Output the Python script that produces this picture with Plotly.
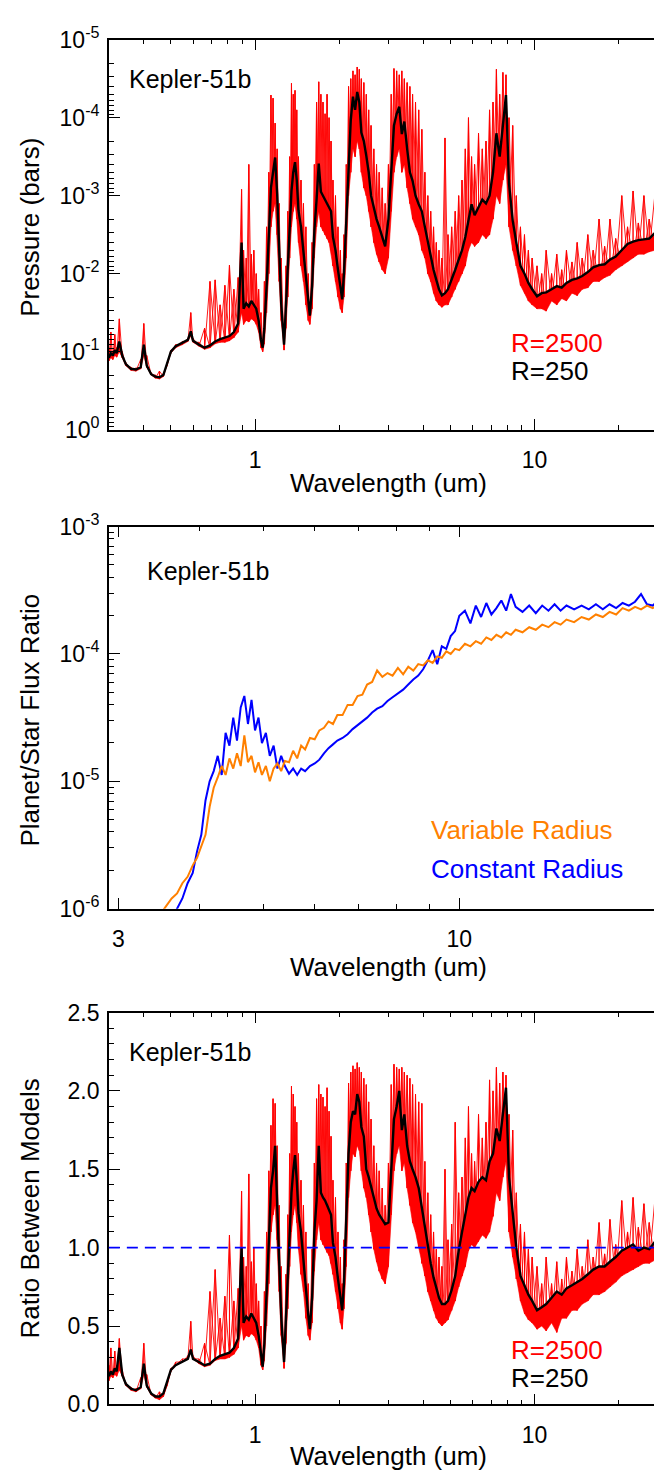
import plotly.graph_objects as go

# ---------------- DATA ----------------
# wavelength grid (um) shared by top and bottom panels
wavelength_um = [
    0.300, 0.305, 0.310, 0.315, 0.320, 0.327, 0.335, 0.345, 0.360, 0.375, 0.390, 0.400, 0.410, 0.425, 0.440, 0.455, 0.470,
    0.485, 0.500, 0.520, 0.550, 0.575, 0.589, 0.600, 0.630, 0.660, 0.690, 0.720, 0.750, 0.780, 0.810, 0.840, 0.870,
    0.895, 0.910, 0.930, 0.950, 0.970, 0.990, 1.010, 1.030, 1.050, 1.065,
    1.08, 1.10, 1.12, 1.14, 1.16, 1.18, 1.20, 1.22, 1.24, 1.27,
    1.29, 1.31, 1.33, 1.35, 1.37, 1.39, 1.41, 1.43, 1.46, 1.49, 1.52, 1.55, 1.57,
    1.60, 1.63, 1.66, 1.69, 1.72, 1.75, 1.78, 1.81, 1.84, 1.87, 1.90, 1.94, 1.98, 2.02, 2.05,
    2.08, 2.12, 2.16, 2.20, 2.24, 2.28, 2.32, 2.36, 2.40, 2.45, 2.50, 2.55, 2.60, 2.66, 2.72, 2.78, 2.85, 2.92,
    3.00, 3.07, 3.14, 3.21, 3.28, 3.35, 3.42, 3.50, 3.58, 3.66, 3.75, 3.85, 3.95, 4.05, 4.15, 4.25, 4.35, 4.45, 4.55, 4.66,
    4.78, 4.90, 5.05, 5.20, 5.35, 5.50, 5.65, 5.80, 5.95, 6.10, 6.30, 6.50, 6.70, 6.90, 7.10, 7.30, 7.50, 7.70, 7.90, 8.10,
    8.35, 8.60, 8.90, 9.20, 9.50, 9.80, 10.2,
    10.6, 11.0, 11.5, 12.0, 12.5, 13.0, 13.6, 14.2, 14.8, 15.5, 16.2, 17.0, 17.8, 18.6, 19.5, 20.5, 21.5, 22.5, 23.5, 24.6,
    25.7, 26.9, 28.1, 29.3, 30.0,
]

# top panel: log10 of photosphere pressure (bars)
log10_p_R250 = [
    -0.92, -0.98, -0.95, -1.02, -0.98, -1.13, -0.95, -0.84, -0.78, -0.77, -0.80, -1.09, -0.82, -0.71, -0.68, -0.67, -0.70,
    -0.84, -1.00, -1.07, -1.11, -1.15, -1.26, -1.14, -1.09, -1.05, -1.08, -1.13, -1.16, -1.18, -1.20, -1.25, -1.36,
    -2.40, -1.55, -1.62, -1.58, -1.65, -1.60, -1.55, -1.40, -1.15, -1.05,
    -1.30, -1.84, -2.47, -3.10, -3.30, -3.49, -3.02, -2.26, -1.63, -1.09,
    -1.60, -2.05, -2.68, -3.06, -3.30, -3.43, -3.20, -2.81, -2.60, -2.26, -1.92, -1.63, -1.46,
    -1.84, -2.55, -2.95, -3.41, -3.05, -3.00, -2.95, -2.90, -2.85, -2.80, -2.47, -2.30, -2.05, -1.80, -1.67,
    -2.00, -2.68, -3.50, -3.97, -4.27, -4.10, -4.33, -4.20, -3.81, -3.70, -3.51, -3.30, -3.00, -2.85, -2.70, -2.60, -2.47, -2.35,
    -2.70, -3.30, -3.90, -4.05, -4.14, -3.79, -3.95, -3.60, -3.30, -3.19, -3.00, -2.89, -2.80, -2.60, -2.40, -2.20, -2.05, -1.92, -1.80, -1.72,
    -1.75, -1.80, -1.92, -2.05, -2.18, -2.30, -2.47, -2.70, -2.89, -2.75, -2.85, -2.95, -2.90, -3.00, -3.30, -3.80, -3.50, -3.90, -4.29, -3.15,
    -2.68, -2.40, -2.10, -2.00, -1.88, -1.80, -1.71,
    -1.75, -1.76, -1.80, -1.84, -1.82, -1.88, -1.92, -1.94, -1.97, -2.02, -2.08, -2.11, -2.12, -2.18, -2.22, -2.30, -2.38, -2.41, -2.43, -2.44,
    -2.45, -2.52, -2.62, -2.66, -2.60,
]
log10_p_R2500_high = [
    -1.05, -1.25, -1.00, -1.22, -1.05, -1.42, -1.00, -0.86, -0.80, -0.79, -0.90, -1.36, -0.95, -0.73, -0.70, -0.75, -0.72,
    -0.86, -1.02, -1.09, -1.13, -1.17, -1.50, -1.17, -1.12, -1.30, -1.90, -1.92, -1.60, -1.85, -2.11, -1.80, -1.95,
    -3.08, -2.30, -2.20, -3.40, -2.25, -2.30, -2.00, -1.80, -1.50, -1.15,
    -1.90, -2.60, -3.30, -4.29, -4.25, -3.93, -3.60, -2.90, -2.20, -1.20,
    -2.10, -2.80, -3.50, -4.44, -4.30, -4.35, -4.10, -3.50, -3.20, -2.90, -2.60, -2.00, -1.60,
    -2.40, -3.40, -4.20, -4.46, -4.30, -4.20, -4.05, -4.30, -4.00, -3.70, -3.20, -3.00, -2.60, -2.30, -2.00,
    -2.50, -3.40, -4.40, -4.50, -4.60, -4.55, -4.65, -4.62, -4.50, -4.45, -4.30, -4.10, -3.90, -3.60, -3.40, -3.30, -3.10, -2.90,
    -3.40, -4.30, -4.63, -4.60, -4.55, -4.60, -4.50, -4.45, -4.40, -4.30, -4.20, -4.10, -3.85, -3.30, -3.00, -2.80, -2.60, -2.40, -2.30, -2.20,
    -3.74, -2.50, -2.60, -2.80, -3.00, -3.20, -3.60, -4.00, -3.50, -3.40, -3.80, -3.60, -3.70, -4.10, -4.20, -4.62, -4.30, -4.58, -4.55, -4.00,
    -3.90, -3.00, -2.60, -2.50, -2.30, -2.20, -2.10,
    -2.00, -2.30, -2.00, -2.25, -2.05, -2.30, -2.15, -2.40, -2.20, -2.50, -2.30, -2.70, -2.35, -2.70, -2.45, -3.00, -2.60, -3.06, -2.65, -3.00,
    -2.70, -3.00, -3.13, -2.85, -2.80,
]
log10_p_R2500_low = [
    -0.88, -0.92, -0.90, -0.95, -0.93, -1.00, -0.92, -0.82, -0.76, -0.75, -0.78, -0.95, -0.80, -0.70, -0.66, -0.65, -0.68,
    -0.82, -0.98, -1.05, -1.09, -1.13, -1.20, -1.12, -1.07, -1.03, -1.05, -1.10, -1.12, -1.12, -1.14, -1.18, -1.25,
    -1.50, -1.35, -1.40, -1.38, -1.42, -1.40, -1.35, -1.25, -1.05, -1.00,
    -1.10, -1.50, -2.00, -2.60, -2.80, -2.90, -2.50, -1.90, -1.40, -1.02,
    -1.30, -1.70, -2.20, -2.60, -2.80, -2.90, -2.70, -2.40, -2.10, -1.90, -1.60, -1.40, -1.35,
    -1.55, -2.20, -2.60, -2.80, -2.60, -2.55, -2.50, -2.45, -2.40, -2.30, -2.10, -1.90, -1.70, -1.55, -1.50,
    -1.70, -2.20, -3.00, -3.30, -3.60, -3.50, -3.70, -3.60, -3.30, -3.10, -3.00, -2.80, -2.60, -2.40, -2.25, -2.15, -2.05, -2.00,
    -2.20, -2.80, -3.30, -3.50, -3.60, -3.30, -3.40, -3.10, -2.90, -2.70, -2.60, -2.50, -2.30, -2.20, -2.00, -1.90, -1.75, -1.65, -1.60, -1.57,
    -1.60, -1.60, -1.70, -1.80, -1.90, -2.00, -2.10, -2.30, -2.40, -2.35, -2.40, -2.50, -2.45, -2.50, -2.70, -3.00, -2.90, -3.20, -3.40, -2.60,
    -2.30, -2.10, -1.85, -1.75, -1.65, -1.60, -1.55,
    -1.55, -1.52, -1.65, -1.60, -1.68, -1.65, -1.75, -1.72, -1.80, -1.82, -1.90, -1.90, -1.95, -1.98, -2.05, -2.10, -2.15, -2.20, -2.25, -2.25,
    -2.28, -2.30, -2.40, -2.40, -2.45,
]

# bottom panel: ratio between models
ratio_R250 = [
    0.18, 0.21, 0.19, 0.23, 0.21, 0.36, 0.19, 0.13, 0.10, 0.09, 0.11, 0.26, 0.12, 0.07, 0.05, 0.05, 0.07,
    0.14, 0.22, 0.25, 0.27, 0.29, 0.35, 0.29, 0.27, 0.25, 0.26, 0.29, 0.31, 0.32, 0.33, 0.36, 0.42,
    1.00, 0.52, 0.56, 0.54, 0.58, 0.55, 0.52, 0.44, 0.30, 0.24,
    0.39, 0.68, 1.03, 1.38, 1.49, 1.65, 1.33, 0.91, 0.57, 0.27,
    0.55, 0.80, 1.14, 1.35, 1.49, 1.59, 1.43, 1.22, 1.10, 0.91, 0.73, 0.57, 0.48,
    0.68, 1.10, 1.30, 1.65, 1.35, 1.32, 1.30, 1.27, 1.24, 1.21, 1.03, 0.94, 0.80, 0.66, 0.60,
    0.77, 1.14, 1.60, 1.80, 1.87, 1.85, 1.98, 1.93, 1.77, 1.71, 1.50, 1.45, 1.38, 1.32, 1.25, 1.21, 1.18, 1.15,
    1.16, 1.49, 1.82, 1.90, 2.00, 1.75, 1.85, 1.65, 1.55, 1.50, 1.45, 1.38, 1.25, 1.12, 1.00, 0.90, 0.81, 0.74, 0.68, 0.64,
    0.64, 0.66, 0.73, 0.82, 0.98, 1.10, 1.20, 1.32, 1.38, 1.36, 1.42, 1.45, 1.43, 1.55, 1.60, 1.76, 1.68, 1.85, 2.02, 1.45,
    1.20, 1.00, 0.82, 0.76, 0.70, 0.66, 0.60,
    0.62, 0.64, 0.68, 0.72, 0.70, 0.74, 0.76, 0.78, 0.80, 0.83, 0.86, 0.88, 0.88, 0.91, 0.94, 0.98, 1.00, 1.02, 0.98, 1.00,
    0.99, 1.04, 1.08, 1.06, 1.02,
]
ratio_R2500_high = [
    0.25, 0.36, 0.22, 0.34, 0.25, 0.42, 0.22, 0.14, 0.11, 0.10, 0.17, 0.39, 0.19, 0.07, 0.06, 0.08, 0.07,
    0.14, 0.23, 0.27, 0.29, 0.31, 0.53, 0.31, 0.29, 0.39, 0.72, 0.86, 0.55, 0.69, 1.08, 0.66, 0.74,
    1.36, 0.94, 0.88, 1.47, 0.91, 1.00, 0.77, 0.66, 0.50, 0.30,
    0.72, 1.10, 1.49, 1.78, 1.95, 1.92, 1.65, 1.27, 0.88, 0.33,
    0.83, 1.21, 1.60, 2.03, 1.98, 1.90, 1.80, 1.60, 1.43, 1.27, 1.10, 0.77, 0.55,
    0.99, 1.54, 1.95, 2.04, 1.98, 1.96, 1.90, 2.02, 1.87, 1.71, 1.43, 1.32, 1.10, 0.94, 0.77,
    1.05, 1.54, 2.05, 2.12, 2.16, 2.14, 2.18, 2.15, 2.12, 2.08, 2.04, 1.93, 1.82, 1.65, 1.54, 1.49, 1.38, 1.27,
    1.54, 2.04, 2.17, 2.15, 2.14, 2.15, 2.12, 2.10, 2.08, 2.04, 1.98, 1.93, 1.92, 1.55, 1.35, 1.21, 1.10, 0.99, 0.94, 0.88,
    1.50, 1.05, 1.15, 1.80, 1.35, 1.45, 1.70, 1.90, 1.60, 1.55, 1.85, 1.70, 1.80, 2.07, 2.00, 2.15, 2.05, 2.12, 2.10, 1.85,
    1.75, 1.35, 1.15, 1.10, 0.99, 0.94, 0.88,
    0.77, 0.94, 0.77, 0.91, 0.80, 0.94, 0.85, 0.99, 0.88, 1.05, 0.94, 1.16, 0.96, 1.18, 1.02, 1.30, 1.10, 1.32, 1.13, 1.28,
    1.16, 1.30, 1.47, 1.24, 1.21,
]
ratio_R2500_low = [
    0.15, 0.18, 0.17, 0.19, 0.18, 0.22, 0.18, 0.12, 0.09, 0.08, 0.10, 0.19, 0.11, 0.06, 0.04, 0.03, 0.05,
    0.12, 0.21, 0.25, 0.27, 0.29, 0.33, 0.29, 0.26, 0.24, 0.25, 0.28, 0.29, 0.29, 0.30, 0.32, 0.36,
    0.50, 0.41, 0.44, 0.43, 0.45, 0.44, 0.41, 0.36, 0.25, 0.22,
    0.28, 0.50, 0.77, 1.10, 1.21, 1.27, 1.05, 0.72, 0.44, 0.23,
    0.39, 0.61, 0.88, 1.10, 1.21, 1.27, 1.16, 0.99, 0.83, 0.72, 0.55, 0.44, 0.41,
    0.52, 0.85, 1.05, 1.16, 1.05, 1.02, 1.00, 0.97, 0.95, 0.90, 0.83, 0.72, 0.61, 0.52, 0.48,
    0.61, 0.88, 1.32, 1.49, 1.60, 1.58, 1.65, 1.62, 1.49, 1.38, 1.32, 1.21, 1.10, 0.99, 0.91, 0.85, 0.80, 0.77,
    0.88, 1.21, 1.49, 1.60, 1.65, 1.49, 1.54, 1.38, 1.27, 1.16, 1.10, 1.00, 0.90, 0.82, 0.72, 0.66, 0.60, 0.55, 0.52, 0.50,
    0.52, 0.54, 0.60, 0.66, 0.75, 0.82, 0.88, 0.98, 1.02, 1.00, 1.04, 1.08, 1.06, 1.10, 1.20, 1.35, 1.30, 1.45, 1.55, 1.10,
    0.94, 0.80, 0.66, 0.58, 0.54, 0.52, 0.48,
    0.50, 0.47, 0.52, 0.46, 0.55, 0.55, 0.60, 0.60, 0.64, 0.66, 0.70, 0.70, 0.72, 0.75, 0.78, 0.82, 0.84, 0.86, 0.88, 0.90,
    0.90, 0.92, 0.96, 0.97, 1.00,
]

# middle panel: planet/star flux ratio (log10)
wavelength_mid_um = [
    3.40, 3.47, 3.55, 3.62, 3.69, 3.76, 3.83, 3.90, 3.96, 4.02,
    4.08, 4.14, 4.20, 4.26, 4.32, 4.38, 4.44, 4.50, 4.56, 4.62,
    4.68, 4.74, 4.80, 4.86, 4.92, 4.98, 5.05, 5.12, 5.19, 5.26,
    5.33, 5.40, 5.48, 5.56, 5.64, 5.72, 5.80, 5.90, 6.00, 6.10,
    6.20, 6.30, 6.40, 6.50, 6.62, 6.74, 6.86, 6.98, 7.10, 7.22,
    7.35, 7.48, 7.62, 7.76, 7.90, 8.05, 8.20, 8.35, 8.50, 8.65,
    8.80, 8.95, 9.10, 9.25, 9.40, 9.55, 9.70, 9.85, 10.0, 10.2,
    10.4, 10.6, 10.8, 11.0, 11.2, 11.4, 11.6, 11.8, 12.0, 12.2,
    12.5, 12.8, 13.1, 13.4, 13.7, 14.0, 14.3, 14.6, 15.0, 15.4,
    15.8, 16.2, 16.6, 17.0, 17.4, 17.8, 18.2, 18.6, 19.0, 19.4,
    19.8, 20.2, 20.6, 21.0,
]
log10_flux_constant_radius = [
    -6.30, -6.25, -6.15, -6.10, -6.00, -5.92, -5.80, -5.72, -5.55, -5.42,
    -5.15, -5.00, -4.92, -4.80, -4.95, -4.62, -4.72, -4.50, -4.68, -4.42,
    -4.33, -4.55, -4.36, -4.60, -4.50, -4.70, -4.62, -4.80, -4.72, -4.90,
    -4.80, -4.88, -4.94, -4.90, -4.95, -4.90, -4.92, -4.88, -4.86, -4.83,
    -4.78, -4.74, -4.71, -4.68, -4.66, -4.63, -4.59, -4.56, -4.53, -4.50,
    -4.46, -4.43, -4.41, -4.37, -4.34, -4.31, -4.28, -4.24, -4.20, -4.17,
    -4.12, -4.05, -3.97, -4.08, -3.94, -3.96, -3.86, -3.82, -3.70, -3.66,
    -3.76, -3.62, -3.71, -3.60, -3.69, -3.64, -3.58, -3.66, -3.53, -3.63,
    -3.67, -3.62, -3.68, -3.62, -3.66, -3.61, -3.66, -3.62, -3.65, -3.62,
    -3.65, -3.61, -3.65, -3.61, -3.64, -3.60, -3.62, -3.59, -3.53, -3.61,
    -3.62, -3.58, -3.60, -3.58,
]
log10_flux_variable_radius = [
    -6.10, -6.05, -5.98, -5.92, -5.88, -5.80, -5.75, -5.66, -5.60, -5.50,
    -5.42, -5.20, -5.05, -4.97, -4.88, -4.95, -4.82, -4.90, -4.78, -4.88,
    -4.64, -4.85, -4.80, -4.93, -4.85, -4.95, -4.88, -5.00, -4.90, -4.86,
    -4.92, -4.84, -4.85, -4.76, -4.82, -4.72, -4.75, -4.66, -4.67, -4.60,
    -4.58, -4.53, -4.55, -4.48, -4.48, -4.40, -4.40, -4.33, -4.32, -4.24,
    -4.22, -4.13, -4.18, -4.15, -4.17, -4.11, -4.16, -4.10, -4.13, -4.08,
    -4.09, -4.05, -4.07, -4.02, -4.03, -3.98, -4.00, -3.96, -3.97, -3.92,
    -3.94, -3.90, -3.92, -3.87, -3.89, -3.85, -3.87, -3.83, -3.85, -3.81,
    -3.83, -3.79, -3.81, -3.77, -3.79, -3.75, -3.77, -3.73, -3.75, -3.71,
    -3.73, -3.69, -3.71, -3.67, -3.69, -3.64, -3.66, -3.63, -3.65, -3.62,
    -3.64, -3.61, -3.62, -3.60,
]

# tick labels
top_y_ticks = [1e-5, 1e-4, 1e-3, 1e-2, 1e-1, 1e0]
top_y_labels = ["10<sup>-5</sup>", "10<sup>-4</sup>", "10<sup>-3</sup>", "10<sup>-2</sup>", "10<sup>-1</sup>", "10<sup>0</sup>"]
mid_y_ticks = [1e-6, 1e-5, 1e-4, 1e-3]
mid_y_labels = ["10<sup>-6</sup>", "10<sup>-5</sup>", "10<sup>-4</sup>", "10<sup>-3</sup>"]
bot_y_ticks = [0.0, 0.5, 1.0, 1.5, 2.0, 2.5]
bot_y_labels = ["0.0", "0.5", "1.0", "1.5", "2.0", "2.5"]
wide_x_ticks = [1, 10]
wide_x_labels = ["1", "10"]
mid_x_ticks = [3, 10]
mid_x_labels = ["3", "10"]

# ---------------- FIGURE ----------------
W, H = 662, 1476
FONT = "Liberation Sans, Arial, Helvetica, sans-serif"
RED, BLUE, ORANGE = "#ff0000", "#0000ff", "#ff8000"


def py(px):
    return 1 - px / H


def zigzag(x, first, second):
    xs, ys = [], []
    for xi, a, b in zip(x, first, second):
        xs += [xi, xi]
        ys += [a, b]
    return xs, ys


def band(x, lo, hi):
    return list(x) + list(reversed(x)), list(hi) + list(reversed(lo))


def pow10(vals):
    return [10 ** v for v in vals]


def add_r2500(x, lo, hi, mid, xa, ya, conv):
    # dense core below the smoothed spectrum
    bx, by = band(x, lo, mid)
    fig.add_trace(go.Scatter(x=bx, y=conv(by), mode="lines", fill="toself", fillcolor=RED,
                             line=dict(color=RED, width=0.6), xaxis=xa, yaxis=ya, hoverinfo="skip"))
    # crossing spikes between low and high envelopes
    for first, second in ((lo, hi), (hi, lo)):
        zx, zy = zigzag(x, first, second)
        fig.add_trace(go.Scatter(x=zx, y=conv(zy), mode="lines", line=dict(color=RED, width=0.9),
                                 xaxis=xa, yaxis=ya, hoverinfo="skip"))


fig = go.Figure()

# top panel
add_r2500(wavelength_um, log10_p_R2500_low, log10_p_R2500_high, log10_p_R250, "x", "y", pow10)
fig.add_trace(go.Scatter(x=wavelength_um, y=pow10(log10_p_R250), mode="lines", line=dict(color="black", width=2.4),
                         xaxis="x", yaxis="y", hoverinfo="skip"))

# middle panel
fig.add_trace(go.Scatter(x=wavelength_mid_um, y=pow10(log10_flux_constant_radius), mode="lines",
                         line=dict(color=BLUE, width=2), xaxis="x2", yaxis="y2", hoverinfo="skip"))
fig.add_trace(go.Scatter(x=wavelength_mid_um, y=pow10(log10_flux_variable_radius), mode="lines",
                         line=dict(color=ORANGE, width=2), xaxis="x2", yaxis="y2", hoverinfo="skip"))

# bottom panel
add_r2500(wavelength_um, ratio_R2500_low, ratio_R2500_high, ratio_R250, "x3", "y3", list)
fig.add_trace(go.Scatter(x=wavelength_um, y=ratio_R250, mode="lines", line=dict(color="black", width=2.4),
                         xaxis="x3", yaxis="y3", hoverinfo="skip"))

XD = [101 / W, 661 / W]


def axis_common():
    return dict(showline=True, linecolor="black", linewidth=1.5, mirror="ticks", ticks="inside",
                ticklen=11, tickwidth=1.3, tickcolor="black", showgrid=False, zeroline=False,
                tickfont=dict(family=FONT, size=23, color="black"))


top_x_minor = [0.4, 0.5, 0.6, 0.7, 0.8, 0.9, 2, 3, 4, 5, 6, 7, 8, 9, 20, 30]
mid_x_minor = [4, 5, 6, 7, 8, 9, 20]
top_y_minor = [k * 10.0 ** e for e in range(-5, 0) for k in range(2, 10)]
mid_y_minor = [k * 10.0 ** e for e in range(-6, -3) for k in range(2, 10)]
minor_style = dict(ticks="inside", ticklen=5, tickwidth=1.2, tickcolor="black", tickmode="array")

xa1 = axis_common()
xa1.update(type="log", domain=XD, anchor="y", range=[-0.5229, 1.4771], tickmode="array",
           tickvals=wide_x_ticks, ticktext=wide_x_labels, ticklabelstandoff=9,
           minor=dict(minor_style, tickvals=top_x_minor))
ya1 = axis_common()
ya1.update(type="log", domain=[py(413), py(15)], anchor="x", range=[0, -5], tickmode="array",
           tickvals=top_y_ticks, ticktext=top_y_labels, ticklabelstandoff=3,
           minor=dict(minor_style, tickvals=top_y_minor))

xa2 = axis_common()
xa2.update(type="log", domain=XD, anchor="y2", range=[0.4624, 1.3201], tickmode="array",
           tickvals=mid_x_ticks, ticktext=mid_x_labels, ticklabelstandoff=9,
           minor=dict(minor_style, tickvals=mid_x_minor))
ya2 = axis_common()
ya2.update(type="log", domain=[py(902), py(512)], anchor="x2", range=[-6, -3], tickmode="array",
           tickvals=mid_y_ticks, ticktext=mid_y_labels, ticklabelstandoff=3,
           minor=dict(minor_style, tickvals=mid_y_minor))

xa3 = axis_common()
xa3.update(type="log", domain=XD, anchor="y3", range=[-0.5229, 1.4771], tickmode="array",
           tickvals=wide_x_ticks, ticktext=wide_x_labels, ticklabelstandoff=9,
           minor=dict(minor_style, tickvals=top_x_minor))
ya3 = axis_common()
ya3.update(type="linear", domain=[py(1408), py(1008)], anchor="x3", range=[0, 2.5], tickmode="array",
           tickvals=bot_y_ticks, ticktext=bot_y_labels, ticklabelstandoff=3,
           minor=dict(ticks="inside", ticklen=5, tickwidth=1.2, tickcolor="black", dtick=0.1, tick0=0))

ann = []


def text(x, y, s, color="black", size=25, xanchor="left", angle=0):
    ann.append(dict(x=x / W, y=py(y), xref="paper", yref="paper", text=s, showarrow=False,
                    xanchor=xanchor, yanchor="middle", textangle=angle,
                    font=dict(family=FONT, size=size, color=color)))


cx = (101 + 661) / 2
text(22, 206, "Pressure (bars)", xanchor="center", angle=-90, size=26)
text(22, 709, "Planet/Star Flux Ratio", xanchor="center", angle=-90, size=26)
text(22, 1208, "Ratio Between Models", xanchor="center", angle=-90, size=26)
text(cx, 467, "Wavelength (um)", xanchor="center", size=26)
text(cx, 962, "Wavelength (um)", xanchor="center", size=26)
text(cx, 1461, "Wavelength (um)", xanchor="center", size=26)

text(119, 55, "Kepler-51b")
text(137, 557, "Kepler-51b")
text(119, 1048, "Kepler-51b")
text(502, 325, "R=2500", color=RED, size=26)
text(502, 353, "R=250", size=26)
text(422, 822, "Variable Radius", color=ORANGE, size=26)
text(422, 861, "Constant Radius", color=BLUE, size=26)
text(502, 1352, "R=2500", color=RED, size=26)
text(502, 1381, "R=250", size=26)

fig.update_layout(
    width=W, height=H, margin=dict(l=0, r=0, t=0, b=0),
    paper_bgcolor="white", plot_bgcolor="white", showlegend=False, hovermode=False,
    font=dict(family=FONT, color="black"),
    xaxis=xa1, yaxis=ya1, xaxis2=xa2, yaxis2=ya2, xaxis3=xa3, yaxis3=ya3,
    annotations=ann,
    shapes=[dict(type="line", xref="x3 domain", yref="y3", x0=0, x1=1, y0=1.0, y1=1.0,
                 line=dict(color=BLUE, width=1.6, dash="11px,7px"), layer="above")],
)

fig.write_html("out.html")
